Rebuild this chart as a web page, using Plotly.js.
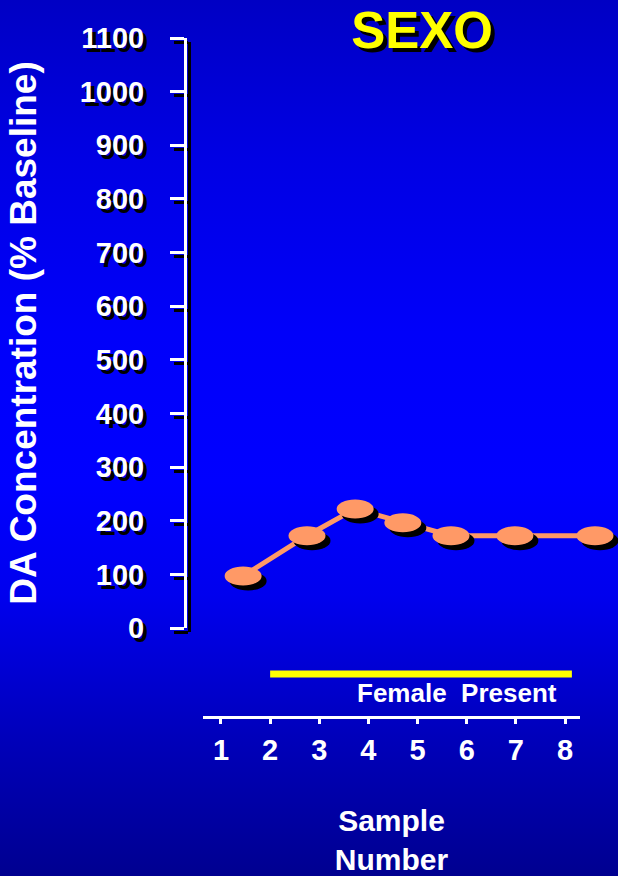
<!DOCTYPE html>
<html>
<head>
<meta charset="utf-8">
<script src="https://cdn.plot.ly/plotly-3.0.1.min.js"></script>
<style>
  html, body { margin: 0; padding: 0; width: 618px; height: 876px; overflow: hidden;
    background: linear-gradient(to bottom, #0000c4 0%, #0000e4 18%, #0000fa 38%, #0000ff 55%, #0000ee 68%, #0000b8 85%, #000090 100%); }
  #chart { width: 618px; height: 876px; }
</style>
</head>
<body>
<div id="chart"></div>
<script>
// ---- data ----
const sampleX = [1.45, 2.75, 3.73, 4.70, 5.68, 6.98, 8.61];      // position on the sample-number scale
const daConc  = [97, 172, 222, 196, 172, 172, 172];               // DA concentration (% baseline)
const xTickVals = [1, 2, 3, 4, 5, 6, 7, 8];
const xTickText = ['1', '2', '3', '4', '5', '6', '7', '8'];
const yTickVals = [0, 100, 200, 300, 400, 500, 600, 700, 800, 900, 1000, 1100];
const femaleStart = 2.0;
const femaleEnd = 8.14;
const chartTitle = 'SEXO';
const yTitle = 'DA Concentration (% Baseline)';
const xTitle = 'Sample<br>Number';
const femaleLabel = 'Female\u00a0 Present';

// ---- layout helpers (pixel geometry of the 618x876 page) ----
const W = 618, H = 876;
const px = v => v / W;
const py = v => 1 - v / H;
const FONT = 'Liberation Sans, Arial, Helvetica, sans-serif';
const ORANGE = '#ff9966';
const SH = 4; // shadow offset

const traces = [
  { // anchors the shadow axis subplot
    x: sampleX, y: daConc, xaxis: 'x', yaxis: 'y', type: 'scatter', mode: 'markers',
    marker: { opacity: 0 }, hoverinfo: 'skip', showlegend: false
  },
  {
    x: sampleX, y: daConc, xaxis: 'x2', yaxis: 'y2', type: 'scatter', mode: 'lines',
    line: { color: ORANGE, width: 5 }, name: 'DA', showlegend: false
  }
];

const shapes = [];
sampleX.forEach((xv, i) => {
  shapes.push({
    type: 'circle', xref: 'x2', yref: 'y2', xsizemode: 'pixel', ysizemode: 'pixel',
    xanchor: xv, yanchor: daConc[i], x0: -18.5 + 5, x1: 18.5 + 5, y0: -9.5 - 5, y1: 9.5 - 5,
    fillcolor: '#000000', line: { width: 0 }, layer: 'above'
  });
});
sampleX.forEach((xv, i) => {
  shapes.push({
    type: 'circle', xref: 'x2', yref: 'y2', xsizemode: 'pixel', ysizemode: 'pixel',
    xanchor: xv, yanchor: daConc[i], x0: -18.5, x1: 18.5, y0: -9.5, y1: 9.5,
    fillcolor: ORANGE, line: { width: 0 }, layer: 'above'
  });
});
shapes.push({
  type: 'line', xref: 'x', yref: 'paper', x0: femaleStart, x1: femaleEnd,
  y0: py(674), y1: py(674), line: { color: '#ffff00', width: 7 }
});

const yCommon = {
  range: [0, 1100], tickvals: yTickVals, ticks: 'outside', ticklen: 14, tickwidth: 3,
  showline: true, linewidth: 3, showgrid: false, zeroline: false, anchor: 'free',
  fixedrange: true
};

const layout = {
  width: W, height: H,
  margin: { l: 0, r: 0, t: 0, b: 0 },
  paper_bgcolor: 'rgba(0,0,0,0)', plot_bgcolor: 'rgba(0,0,0,0)',
  showlegend: false,
  font: { family: FONT, color: '#ffffff' },
  title: {
    text: chartTitle, x: px(422), xanchor: 'center', y: py(30), yanchor: 'middle',
    font: { family: FONT, size: 51, color: '#ffff00', weight: 'bold', shadow: SH + 'px ' + SH + 'px 0px #000000' }
  },
  xaxis: { // visible sample-number axis
    domain: [px(203), px(580)], range: [0.634, 8.305], anchor: 'free', position: py(717),
    tickvals: xTickVals, ticktext: xTickText, ticks: 'outside', ticklen: 5, tickwidth: 3,
    tickcolor: '#ffffff', showline: true, linewidth: 3, linecolor: '#ffffff',
    showgrid: false, zeroline: false, ticklabelstandoff: 1,
    tickfont: { family: FONT, size: 29, color: '#ffffff', weight: 'bold' },
    title: { text: xTitle, standoff: 48, font: { family: FONT, size: 30, color: '#ffffff', weight: 'bold' } },
    fixedrange: true
  },
  xaxis2: { // data placement axis (hidden), same scale as the sample-number axis
    domain: [px(185), 1], range: [0.2674, 9.0785], anchor: 'y2', visible: false, fixedrange: true
  },
  yaxis: Object.assign({}, yCommon, { // shadow of the value axis
    domain: [py(628 + SH), py(38 + SH)], position: px(185 + SH),
    linecolor: '#000000', tickcolor: '#000000', showticklabels: false
  }),
  yaxis2: Object.assign({}, yCommon, {
    domain: [py(628), py(38)], position: px(185),
    linecolor: '#ffffff', tickcolor: '#ffffff', ticklabelstandoff: 20,
    tickfont: { family: FONT, size: 29, color: '#ffffff', weight: 'bold', shadow: SH + 'px ' + SH + 'px 0px #000000' },
    title: { text: yTitle, standoff: 30, font: { family: FONT, size: 37, color: '#ffffff', weight: 'bold' } }
  }),
  shapes: shapes,
  annotations: [{
    text: femaleLabel, xref: 'paper', yref: 'paper', x: px(559), y: py(693),
    xanchor: 'right', yanchor: 'middle', showarrow: false,
    font: { family: FONT, size: 26, color: '#ffffff', weight: 'bold' }
  }]
};

Plotly.newPlot('chart', traces, layout, { staticPlot: true, displayModeBar: false });
</script>
</body>
</html>
